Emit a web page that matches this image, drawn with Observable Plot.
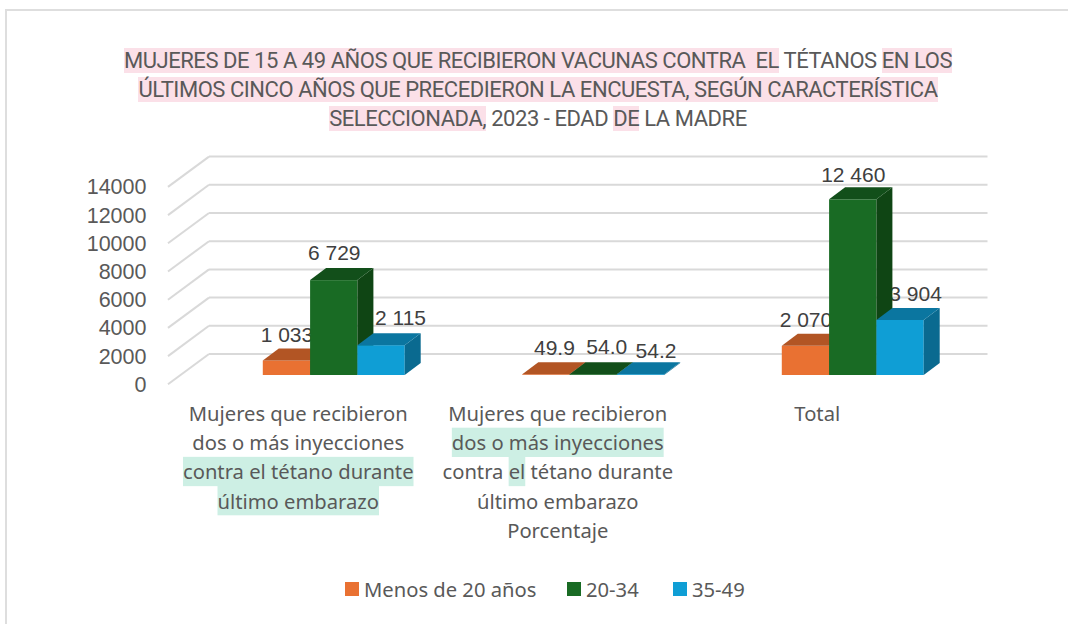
<!DOCTYPE html>
<html><head><meta charset="utf-8">
<script src="https://cdn.jsdelivr.net/npm/d3@7"></script>
<script src="https://cdn.jsdelivr.net/npm/@observablehq/plot@0.6"></script>
<style>
html,body{margin:0;padding:0;background:#fff;overflow:hidden;width:1068px;height:624px}
#card{position:absolute;left:5px;top:9px;width:1200px;height:800px;border:2px solid #dedede;box-sizing:border-box}
#wrap{position:absolute;left:0;top:0;width:1068px}
#title{height:132px;box-sizing:border-box;padding:46px 0 0 8px;text-align:center;font:22px/29px "Roboto",sans-serif;letter-spacing:-0.45px;color:#595959;white-space:pre}
#title .h{background:#fbe0e8}
#legend{height:24px;font:20.2px/24px "Noto Sans",sans-serif;color:#595959;white-space:pre;position:relative}
#legend span{position:absolute;display:flex;align-items:center}
#legend i{display:inline-block;width:14px;height:14px;margin-right:5px}
svg{display:block}
</style></head><body>
<div id="card"></div>
<div id="wrap"><div id="title"></div><div id="chart" style="margin-top:-1px"></div><div id="legend"></div></div>
<script>
const titleLines = [
  [["MUJERES DE 15 A 49 AÑOS QUE RECIBIERON VACUNAS CONTRA  EL",1],[" TÉTANOS ",0],["EN LOS",1]],
  [["ÚLTIMOS CINCO AÑOS QUE PRECEDIERON LA ENCUESTA, SEGÚN CARACTERÍSTICA",1]],
  [["SELECCIONADA,",1],[" 2023 - EDAD ",0],["DE",1],[" LA MADRE",0]]
];
const categories = [
  "Mujeres que recibieron\ndos o más inyecciones\ncontra el tétano durante\núltimo embarazo",
  "Mujeres que recibieron\ndos o más inyecciones\ncontra el tétano durante\núltimo embarazo\nPorcentaje",
  "Total"
];
const categoryMarks = [
  {cat:0,line:2,text:"contra el tétano durante"},
  {cat:0,line:3,text:"último embarazo"},
  {cat:1,line:1,text:"dos o más inyecciones"},
  {cat:1,line:2,text:"el"}
];
const seriesNames = ["Menos de 20 años","20-34","35-49"];
const menos20 = [1033,49.9,2070];
const de20a34 = [6729,54.0,12460];
const de35a49 = [2115,54.2,3904];
const seriesValues = [menos20,de20a34,de35a49];
const seriesColors = ["#E97132","#196B24","#0F9ED5"];
const topColors = ["#B25524","#124F1A","#0B76A0"];
const sideColors = ["#A04A1E","#0F4514","#0A6A90"];
const yTicks = [0,2000,4000,6000,8000,10000,12000,14000];
// label nudges per category / series (the source chart's hand-placed labels)
const labelDx = [[0,0,19],[8,13,15],[0,0,15]];
const labelDy = [[-26,-27,-27],[-27,-27,-23],[-26,-25,-26]];

document.getElementById("title").innerHTML = titleLines.map(l =>
  l.map(([t,h]) => h ? `<span class="h">${t}</span>` : t).join("")).join("\n");

const fmt = d3.formatLocale({decimal:".",thousands:" ",grouping:[3]});
const big = fmt.format(",d"), small = fmt.format(".1f");
const barW = 0.1823;
const rows = categories.flatMap((c,i) => seriesNames.map((s,j) => ({
  cat:i, serie:j, name:s, value:seriesValues[j][i],
  x1:i+0.5+(j-1.5)*barW, x2:i+0.5+(j-0.5)*barW, xc:i+0.5+(j-1)*barW,
  label: seriesValues[j][i] < 100 ? small(seriesValues[j][i]) : big(seriesValues[j][i])
})));

const depthX = 16, depthY = 12;
const depth = j => (index, scales, values, dims, ctx, next) => {
  const g = next(index, scales, values, dims, ctx);
  d3.select(g).selectAll("rect").each(function(){
    const r = this, x = +r.getAttribute("x"), y = +r.getAttribute("y"),
          w = +r.getAttribute("width"), h = +r.getAttribute("height");
    d3.select(g).append("polygon").attr("fill", sideColors[j])
      .attr("points", [[x+w,y],[x+w+depthX,y-depthY],[x+w+depthX,y+h-depthY],[x+w,y+h]].join(" "));
    d3.select(g).append("polygon").attr("fill", topColors[j])
      .attr("points", [[x,y],[x+depthX,y-depthY],[x+w+depthX,y-depthY],[x+w,y]].join(" "));
  });
  return g;
};
const wallX = 5, wallY = -21.5, sideX = -41, sideY = 30.3;
const wallSide = (index, scales, values, dims, ctx, next) => {
  const g = next(index, scales, values, dims, ctx);
  const x0 = scales.x(0);
  for (const i of index) {
    const y = scales.y(yTicks[i]);
    d3.select(g).append("line").attr("x1",x0).attr("y1",y).attr("x2",x0+sideX).attr("y2",y+sideY)
      .attr("stroke","#D9D9D9").attr("stroke-width",2);
  }
  return g;
};
const bars = j => Plot.rect(rows.filter(d=>d.serie===j),{x1:"x1",x2:"x2",y1:0,y2:"value",fill:"name",render:depth(j)});
const label = d => Plot.text([d],{x:"xc",y:"value",text:"label",dx:labelDx[d.cat][d.serie],dy:labelDy[d.cat][d.serie],
  fontSize:21,fill:"#404040",fontFamily:"Liberation Sans"});

let categoryGroup;
const keepGroup = (index, scales, values, dims, ctx, next) => (categoryGroup = next(index, scales, values, dims, ctx));

const plot = Plot.plot({
  width:1068, height:446, marginTop:0, marginBottom:202, marginLeft:150, marginRight:0,
  x:{type:"linear",domain:[0,3],range:[204,982.5],axis:null},
  y:{domain:[0,14000],range:[244,46.6],axis:null},
  color:{domain:seriesNames,range:seriesColors},
  style:{background:"transparent",overflow:"visible"},
  marks:[
    Plot.ruleY(yTicks,{x1:0,x2:3,dx:wallX,dy:wallY,stroke:"#D9D9D9",strokeWidth:2,render:wallSide}),
    Plot.axisY({ticks:yTicks,tickFormat:"d",label:null,tickSize:0,tickPadding:4,dy:9.5,fontSize:21.5,fill:"#595959",fontFamily:"Liberation Sans"}),
    ...rows.filter(d=>d.serie!==1).map(label),
    bars(0), bars(1), bars(2),
    ...rows.filter(d=>d.serie===1).map(label),
    Plot.text(categories,{x:(d,i)=>i+0.5,y:0,text:d=>d,dx:-36,dy:25,lineAnchor:"top",lineHeight:1.443,
      fontSize:20.2,fill:"#595959",fontFamily:"Noto Sans",render:keepGroup})
  ]
});
document.getElementById("chart").append(plot);

// tint behind the marked words of the category labels
const texts = categoryGroup.querySelectorAll("text");
for (const m of categoryMarks) {
  const te = texts[m.cat], sp = te.querySelectorAll("tspan")[m.line];
  const line = sp.textContent, from = line.indexOf(m.text), to = from + m.text.length - 1;
  const a = sp.getExtentOfChar(from), b = sp.getExtentOfChar(to);
  const lh = 29.3, cy = a.y + a.height/2;
  const r = document.createElementNS("http://www.w3.org/2000/svg","rect");
  r.setAttribute("x",a.x); r.setAttribute("y",cy-lh/2);
  r.setAttribute("width",b.x+b.width-a.x); r.setAttribute("height",lh);
  r.setAttribute("fill","#CDEFE4");
  if (te.getAttribute("transform")) r.setAttribute("transform",te.getAttribute("transform"));
  categoryGroup.insertBefore(r,categoryGroup.firstChild);
}

const legendX = [345,567,673];
document.getElementById("legend").innerHTML = seriesNames.map((s,j)=>
  `<span style="left:${legendX[j]}px"><i style="background:${seriesColors[j]}"></i>${s}</span>`).join("");
</script>
</body></html>
